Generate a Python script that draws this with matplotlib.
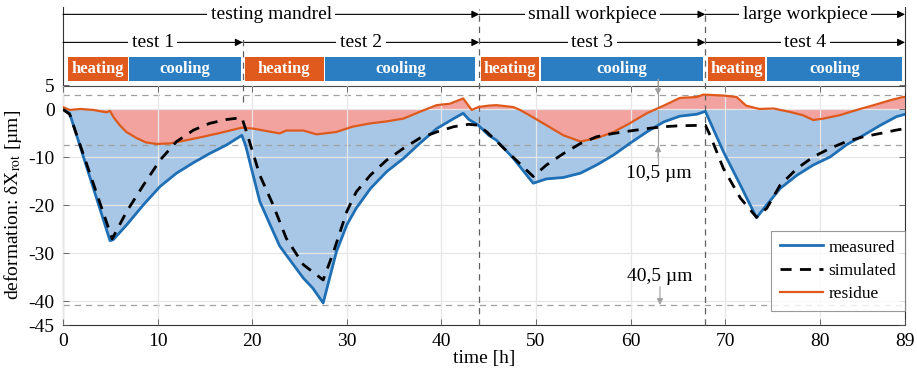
import matplotlib
matplotlib.use("Agg")
import matplotlib.pyplot as plt
from matplotlib.lines import Line2D
import matplotlib.transforms as mtransforms
import numpy as np

plt.rcParams['font.family'] = ['Liberation Serif', 'DejaVu Serif']
plt.rcParams['mathtext.fontset'] = 'stix'
plt.rcParams['axes.unicode_minus'] = False

# ---------------- data ----------------
t_meas = [0.0, 0.7, 4.97, 5.3, 6.73, 8.5, 10.25, 12.0, 13.8, 15.5, 17.3, 18.9,
          19.3, 20.8, 21.9, 22.9, 23.6, 25.4, 26.4, 27.5, 28.9, 30.0, 31.0, 32.5,
          34.2, 36.0, 37.7, 39.5, 41.3, 42.3, 42.9, 43.9, 45.0, 45.8, 47.6, 49.7,
          51.1, 52.9, 54.7, 56.4, 58.2, 59.9, 61.7, 63.5, 65.2, 67.0, 67.9, 68.4,
          69.8, 71.6, 73.3, 74.4, 75.8, 77.6, 79.3, 81.1, 82.8, 84.6, 86.4, 88.1, 89.0]
measured = [0.0, -0.8, -27.4, -27.2, -24.1, -19.9, -16.1, -13.3, -11.1, -9.2, -7.4, -5.4,
            -7.5, -19.2, -24.1, -28.5, -30.4, -35.2, -37.3, -40.4, -29.7, -24.1, -20.6, -16.5,
            -13.0, -10.2, -7.1, -4.0, -1.9, -0.8, -2.1, -3.3, -5.4, -6.4, -10.2, -15.4,
            -14.5, -14.2, -13.3, -11.6, -9.5, -7.1, -4.7, -2.6, -1.4, -1.0, -0.4, -2.6,
            -8.8, -15.8, -22.6, -19.9, -16.5, -13.7, -11.6, -9.9, -7.4, -5.4, -3.3, -1.5, -1.0]

t_sim = [0.0, 0.7, 5.2, 6.73, 8.5, 10.25, 12.0, 13.8, 15.5, 17.3, 18.9,
         19.4, 20.8, 22.2, 23.6, 25.4, 27.5, 28.6, 30.0, 31.0, 32.5, 34.2, 36.0,
         37.7, 39.5, 41.3, 42.9, 43.9, 44.8, 49.7, 51.1, 52.9, 54.7, 56.4, 58.2,
         59.9, 61.7, 63.5, 65.2, 67.9, 68.4, 69.8, 71.6, 73.3, 74.4, 75.8, 77.6,
         79.3, 81.1, 82.8, 84.6, 86.4, 88.1, 89.0]
simulated = [0.0, -1.0, -27.0, -21.3, -15.8, -10.6, -6.7, -4.3, -2.9, -2.1, -1.7,
             -4.7, -13.7, -19.9, -26.9, -32.4, -35.6, -29.7, -21.3, -17.2, -13.7, -10.6, -8.1,
             -6.0, -4.7, -3.6, -3.1, -3.3, -4.7, -14.0, -11.6, -9.2, -7.1, -5.7, -5.0,
             -4.5, -4.0, -3.6, -3.4, -3.3, -5.4, -12.3, -18.5, -22.5, -20.6, -15.8, -12.3,
             -9.9, -8.1, -6.7, -5.7, -5.0, -4.3, -4.0]

t_res = [0.0, 0.7, 1.8, 3.2, 4.6, 4.97, 5.3, 6.0, 6.7, 7.8, 8.8, 9.9, 11.3, 13.1,
         14.8, 16.6, 18.9, 20.1, 21.5, 22.9, 23.6, 25.4, 26.8, 28.9, 30.6, 32.5,
         34.2, 36.0, 37.7, 39.5, 40.9, 42.3, 43.2, 43.9, 45.0, 45.8, 47.6, 48.3,
         49.3, 51.1, 52.9, 54.7, 56.4, 58.2, 59.9, 61.7, 63.5, 65.2, 67.0, 67.7,
         69.8, 71.2, 72.2, 73.6, 75.1, 76.8, 78.2, 79.3, 80.4, 82.1, 83.9, 85.7,
         87.4, 88.8, 89.0]
residue = [0.5, -0.1, 0.1, -0.1, -0.6, -0.3, -1.5, -3.3, -4.7, -6.0, -6.9, -7.2, -7.1, -6.4,
           -5.7, -4.9, -3.8, -4.0, -4.5, -5.0, -4.4, -4.4, -5.2, -4.7, -3.6, -2.9,
           -2.5, -1.9, -0.5, 0.9, 1.2, 2.3, -0.1, 0.5, 0.8, 0.9, 0.5, -0.1,
           -1.2, -3.3, -5.4, -6.7, -6.0, -4.7, -2.9, -0.8, 0.8, 2.4, 2.6, 3.1,
           2.9, 2.6, 0.8, 0.1, 0.2, -0.5, -1.2, -2.2, -1.9, -1.2, -0.1, 0.9,
           1.9, 2.6, 2.6]

# header data
group_labels = ['testing mandrel', 'small workpiece', 'large workpiece']
group_bounds = [(0, 44), (44, 67.9), (67.9, 89)]
test_labels = ['test 1', 'test 2', 'test 3', 'test 4']
test_bounds = [(0, 19), (19, 44), (44, 67.9), (67.9, 89)]
phase_labels = ['heating', 'cooling'] * 4
phase_bounds = [(0.5, 6.85), (7.0, 18.8), (19.2, 27.55), (27.7, 43.6),
                (44.15, 50.35), (50.5, 67.7), (68.15, 74.25), (74.4, 88.7)]

y_ticks = [5, 0, -10, -20, -30, -40, -45]
x_ticks = [0, 10, 20, 30, 40, 50, 60, 70, 80, 89]
ref_lines = [3.0, -7.5, -40.8]

# ---------------- colours ----------------
c_meas = '#1f6fb5'
c_res = '#de5a1c'
c_heat = '#e05a1e'
c_cool = '#2b7ec1'
c_bfill = '#a8c6e5'
c_rfill = '#f2a3a0'
c_grey = '#a0a0a0'

fig = plt.figure(figsize=(9.17, 3.75), dpi=100)
ax = fig.add_axes([63/917, 1-325/375, 842/917, 239.5/375])
ax.set_xlim(0, 89)
ax.set_ylim(-45, 5)

tm = np.array(t_meas); m = np.array(measured)
tr = np.array(t_res); r = np.array(residue)
ax.fill_between(tm, m, 0, color=c_bfill, lw=0, zorder=1)
ax.fill_between(tr, r, 0, color=c_rfill, lw=0, zorder=1.2)

ax.set_xticks(x_ticks)
ax.set_yticks(y_ticks)
ax.grid(True, color='#e6e6e6', lw=0.9, zorder=1.5)
ax.set_axisbelow(False)
for gl in ax.get_xgridlines() + ax.get_ygridlines():
    gl.set_zorder(1.5)

for yv in ref_lines:
    ax.axhline(yv, color=c_grey, lw=0.9, ls=(0, (5, 4)), zorder=1.8)

ax.plot(t_meas, measured, color=c_meas, lw=2.0, zorder=4, label='measured')
ax.plot(t_sim, simulated, color='black', lw=2.0, ls=(0, (4, 3)), zorder=5, label='simulated')
ax.plot(t_res, residue, color=c_res, lw=1.6, zorder=4.5, label='residue')

ax.tick_params(direction='in', top=True, right=True, length=4, width=0.6,
               labelsize=14, color='#555555')
ax.tick_params(axis='x', pad=6)
ax.tick_params(axis='y', pad=6)
for sp in ax.spines.values():
    sp.set_color('#333333')
    sp.set_linewidth(0.8)

ax.set_xlabel('time [h]', fontsize=14)
ax.xaxis.set_label_coords(0.5, -0.103)
ax.set_ylabel(r'deformation: δX$_{\mathrm{rot}}$ [µm]', fontsize=14)
ax.yaxis.set_label_coords(-0.046, 0.5)

leg = ax.legend(loc='lower right', bbox_to_anchor=(1.0, 0.058), borderaxespad=0,
                fontsize=12.5, frameon=True, fancybox=False, handlelength=2.5,
                labelspacing=0.42, borderpad=0.5, handletextpad=0.3)
leg.get_frame().set_edgecolor('#808080')
leg.get_frame().set_linewidth(0.8)
leg.set_zorder(10)

# ---------------- header ----------------
trans = mtransforms.blended_transform_factory(ax.transData, ax.transAxes)
row1_y = 1.297
row2_y = 1.18
bar_y0, bar_y1 = 1.017, 1.117

def header_row(labels, bounds, yy):
    for lab, (a, b) in zip(labels, bounds):
        ax.annotate('', xy=(b, yy), xytext=(a, yy), xycoords=trans, textcoords=trans,
                    arrowprops=dict(arrowstyle='-|>', color='black', lw=0.8,
                                    shrinkA=0, shrinkB=0, mutation_scale=11),
                    annotation_clip=False)
        ax.text((a + b) / 2, yy, lab, transform=trans, ha='center', va='center',
                fontsize=14, clip_on=False,
                bbox=dict(facecolor='white', edgecolor='none', pad=2.5))

header_row(group_labels, group_bounds, row1_y)
header_row(test_labels, test_bounds, row2_y)

for lab, (a, b) in zip(phase_labels, phase_bounds):
    col = c_heat if lab == 'heating' else c_cool
    rect = plt.Rectangle((a, bar_y0), b - a, bar_y1 - bar_y0, transform=trans,
                         facecolor=col, edgecolor='none', clip_on=False)
    ax.add_patch(rect)
    ax.text((a + b) / 2, (bar_y0 + bar_y1) / 2, lab, transform=trans, ha='center',
            va='center', fontsize=12, fontweight='bold', color='white', clip_on=False)

# vertical dashed separators
for xv in [44, 67.9]:
    ax.add_line(Line2D([xv, xv], [0, 1.318], transform=trans, color='#606060',
                       lw=0.9, ls=(0, (5, 4)), clip_on=False, zorder=3))
ax.add_line(Line2D([19, 19], [0.933, 1.2], transform=trans, color='#606060',
                   lw=0.9, ls=(0, (5, 4)), clip_on=False, zorder=3))

# side lines extending upward
for xv in [0, 89]:
    ax.add_line(Line2D([xv, xv], [1.0, 1.326], transform=trans, color='#333333',
                       lw=0.8, clip_on=False))

# ---------------- dimension annotations ----------------
xa = 62.9
ax.add_line(Line2D([xa, xa], [6.3, -11.5], color=c_grey, lw=0.8, clip_on=False, zorder=2))
ax.annotate('', xy=(xa, ref_lines[0]), xytext=(xa, 6.3),
            arrowprops=dict(arrowstyle='-|>', color=c_grey, lw=0.8, shrinkA=0, shrinkB=0,
                            mutation_scale=9), annotation_clip=False)
ax.annotate('', xy=(xa, ref_lines[1]), xytext=(xa, -10.2),
            arrowprops=dict(arrowstyle='-|>', color=c_grey, lw=0.8, shrinkA=0, shrinkB=0,
                            mutation_scale=9), annotation_clip=False)
ax.annotate('', xy=(63.1, ref_lines[2]), xytext=(63.1, -37.0),
            arrowprops=dict(arrowstyle='-|>', color=c_grey, lw=0.8, shrinkA=0, shrinkB=0,
                            mutation_scale=9), annotation_clip=False)
ax.text(63.0, -13.3, '10,5 µm', ha='center', va='center', fontsize=14, zorder=6)
ax.text(63.1, -34.9, '40,5 µm', ha='center', va='center', fontsize=14, zorder=6)

fig.savefig('out.png', dpi=100)
